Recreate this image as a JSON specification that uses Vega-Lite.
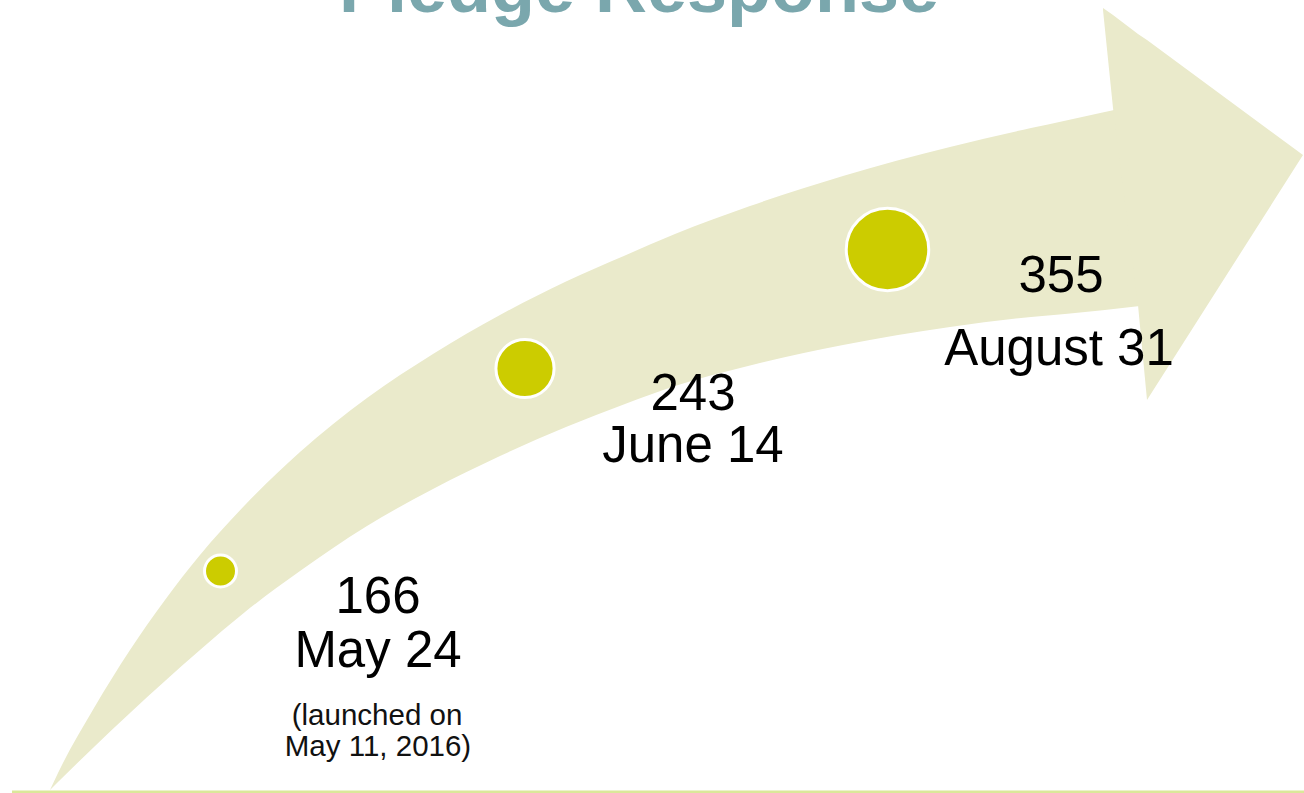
{
  "$schema": "https://vega.github.io/schema/vega-lite/v6.json",
  "autosize": "none",
  "width": 1304,
  "height": 793,
  "padding": 0,
  "background": "white",
  "config": {"view": {"stroke": null}},
  "datasets": {
    "body": [
      {"x": 50, "top": 790, "bottom": 790},
      {"x": 58, "top": 773, "bottom": 782},
      {"x": 94, "top": 708, "bottom": 747},
      {"x": 130, "top": 650, "bottom": 713},
      {"x": 165, "top": 600, "bottom": 681},
      {"x": 200, "top": 555, "bottom": 650},
      {"x": 245, "top": 505, "bottom": 612},
      {"x": 300, "top": 452, "bottom": 571},
      {"x": 367, "top": 398, "bottom": 526},
      {"x": 433, "top": 354, "bottom": 489},
      {"x": 500, "top": 315, "bottom": 456},
      {"x": 566, "top": 281.5, "bottom": 427},
      {"x": 625, "top": 255.5, "bottom": 404},
      {"x": 675, "top": 234, "bottom": 386},
      {"x": 750, "top": 206, "bottom": 365.5},
      {"x": 843, "top": 176, "bottom": 345},
      {"x": 950, "top": 147, "bottom": 327},
      {"x": 1031, "top": 128, "bottom": 317},
      {"x": 1065, "top": 120.7, "bottom": 314},
      {"x": 1140, "top": 104.6, "bottom": 306}
    ],
    "head": [
      {"x": 1103, "top": 8, "bottom": 10},
      {"x": 1113, "top": 15, "bottom": 108},
      {"x": 1138, "top": 34, "bottom": 305},
      {"x": 1147, "top": 40, "bottom": 400},
      {"x": 1303, "top": 155, "bottom": 155}
    ],
    "points": [
      {"date": "May 24", "pledges": 166, "x": 220.5, "y": 571},
      {"date": "June 14", "pledges": 243, "x": 525, "y": 368.5},
      {"date": "August 31", "pledges": 355, "x": 887.5, "y": 249.5}
    ],
    "labels": [
      {"text": "166", "x": 378, "y": 613},
      {"text": "May 24", "x": 378, "y": 667},
      {"text": "243", "x": 693, "y": 410},
      {"text": "June 14", "x": 693, "y": 462},
      {"text": "355", "x": 1061, "y": 292},
      {"text": "August 31", "x": 1059, "y": 365}
    ],
    "notes": [
      {"text": "(launched on", "x": 377, "y": 725},
      {"text": "May 11, 2016)", "x": 378, "y": 756}
    ],
    "title": [
      {"text": "Pledge Response", "x": 639, "y": 12}
    ],
    "baseline": [
      {"x": 12, "x2": 1304, "y": 792}
    ]
  },
  "layer": [
    {
      "data": {"name": "body"},
      "mark": {"type": "area", "color": "#eaeacb", "interpolate": "monotone"},
      "encoding": {
        "x": {"field": "x", "type": "quantitative", "scale": {"domain": [0, 1304], "nice": false, "zero": false}, "axis": null},
        "y": {"field": "top", "type": "quantitative", "scale": {"domain": [0, 793], "nice": false, "zero": false, "reverse": true}, "axis": null},
        "y2": {"field": "bottom"}
      }
    },
    {
      "data": {"name": "head"},
      "mark": {"type": "area", "color": "#eaeacb", "interpolate": "linear"},
      "encoding": {
        "x": {"field": "x", "type": "quantitative"},
        "y": {"field": "top", "type": "quantitative"},
        "y2": {"field": "bottom"}
      }
    },
    {
      "data": {"name": "baseline"},
      "mark": {"type": "rule", "color": "#dbe89a", "strokeWidth": 3},
      "encoding": {
        "x": {"field": "x", "type": "quantitative"},
        "x2": {"field": "x2"},
        "y": {"field": "y", "type": "quantitative"}
      }
    },
    {
      "data": {"name": "points"},
      "mark": {"type": "point", "shape": "circle", "filled": true, "color": "#cccc00", "opacity": 1, "stroke": "white", "strokeWidth": 3},
      "encoding": {
        "x": {"field": "x", "type": "quantitative"},
        "y": {"field": "y", "type": "quantitative"},
        "size": {"field": "pledges", "type": "quantitative", "scale": {"domain": [166, 355], "range": [1024, 6806], "zero": false}, "legend": null}
      }
    },
    {
      "data": {"name": "labels"},
      "mark": {"type": "text", "font": "Liberation Sans", "fontSize": 51, "color": "#000000", "align": "center", "baseline": "alphabetic"},
      "encoding": {
        "x": {"field": "x", "type": "quantitative"},
        "y": {"field": "y", "type": "quantitative"},
        "text": {"field": "text"}
      }
    },
    {
      "data": {"name": "notes"},
      "mark": {"type": "text", "font": "Liberation Sans", "fontSize": 29.5, "color": "#111111", "align": "center", "baseline": "alphabetic"},
      "encoding": {
        "x": {"field": "x", "type": "quantitative"},
        "y": {"field": "y", "type": "quantitative"},
        "text": {"field": "text"}
      }
    },
    {
      "data": {"name": "title"},
      "mark": {"type": "text", "font": "Liberation Sans", "fontSize": 72, "fontWeight": "bold", "color": "#7aa7ad", "align": "center", "baseline": "alphabetic"},
      "encoding": {
        "x": {"field": "x", "type": "quantitative"},
        "y": {"field": "y", "type": "quantitative"},
        "text": {"field": "text"}
      }
    }
  ]
}
